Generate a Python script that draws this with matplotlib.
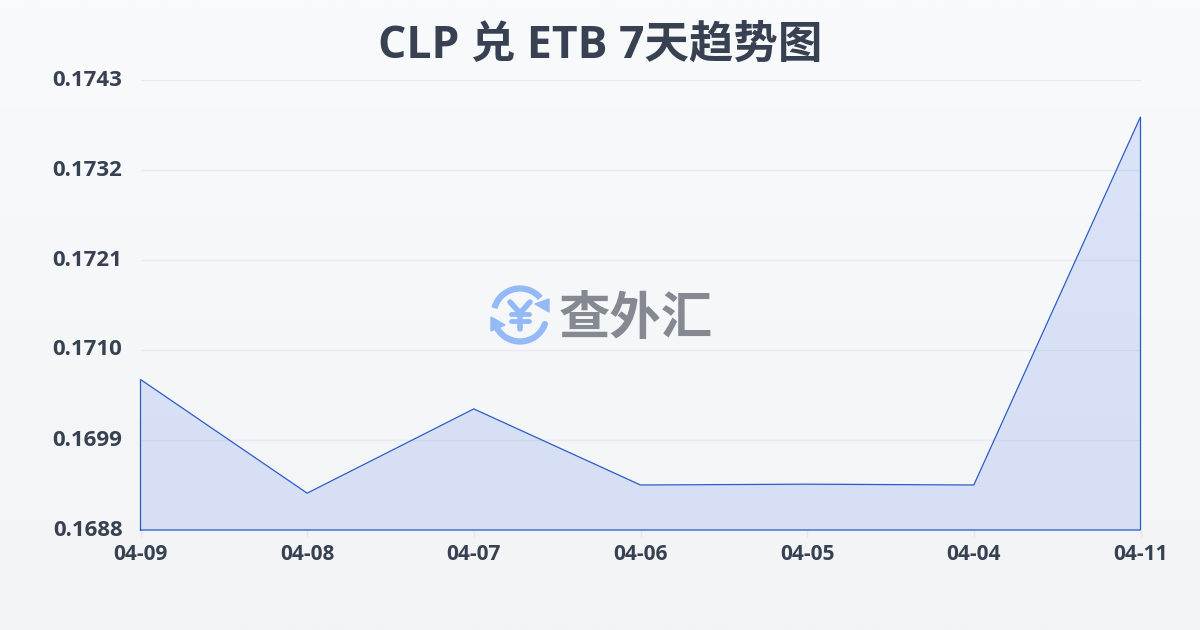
import numpy as np
import matplotlib
matplotlib.use("Agg")
import matplotlib.pyplot as plt
from matplotlib.patches import Arc, Polygon
from matplotlib.transforms import ScaledTranslation

dates = ["04-09", "04-08", "04-07", "04-06", "04-05", "04-04", "04-11"]
rates = [0.17064, 0.16925, 0.17028, 0.16935, 0.16936, 0.16935, 0.17385]
y_ticks = [0.1688, 0.1699, 0.1710, 0.1721, 0.1732, 0.1743]
y_labels = ["0.1688", "0.1699", "0.1710", "0.1721", "0.1732", "0.1743"]
title = "CLP 兑 ETB 7天趋势图"
brand = "查外汇"

plt.rcParams['font.family'] = ['Open Sans', 'Noto Sans CJK SC', 'DejaVu Sans']
W, H = 1200, 630
fig = plt.figure(figsize=(12, 6.3), dpi=100)

bg = fig.add_axes([0, 0, 1, 1], zorder=0)
bg.imshow(np.linspace(0, 1, 256)[:, None],
          cmap=matplotlib.colors.LinearSegmentedColormap.from_list("b", ["#f9fafc", "#f3f4f6"]),
          aspect="auto", extent=[0, W, H, 0])
bg.set_xlim(0, W); bg.set_ylim(H, 0); bg.axis("off")

L, R, T, B = 140.5, 1140.5, 80, 530
ax = fig.add_axes([L/W, 1-B/H, (R-L)/W, (B-T)/H], zorder=1)
ax.patch.set_alpha(0)
x = np.arange(len(dates))
ax.set_xlim(0, len(dates)-1)
ax.set_ylim(y_ticks[0], y_ticks[-1])
ax.fill_between(x, rates, y_ticks[0], color="#3f72e6", alpha=0.16, lw=0, zorder=2)
ax.plot(np.r_[x[0], x, x[-1], x[0]], np.r_[y_ticks[0], rates, y_ticks[0], y_ticks[0]],
        color="#2a5cc8", lw=0.9, zorder=3, clip_on=False, solid_joinstyle="miter")
ax.grid(axis="y", color="#e8eaee", lw=1, zorder=1)
ax.set_yticks(y_ticks, y_labels)
for s in ax.spines.values():
    s.set_visible(False)
ax.set_xticks(x, dates)
ax.tick_params(axis="x", length=5, width=1, color="#e5e7eb", labelsize=15, labelcolor="#374151", pad=5)
ax.tick_params(axis="y", length=0, labelsize=16, labelcolor="#374151", pad=13)
shift = ScaledTranslation(0, 2.5/100, fig.dpi_scale_trans)
for t in ax.get_yticklabels():
    t.set_transform(t.get_transform() + shift)
for t in ax.get_xticklabels() + ax.get_yticklabels():
    t.set_fontweight("bold")

bg.text(600, 46, title, ha="center", va="center", fontsize=32, fontweight="bold", color="#374151")

# watermark
ov = fig.add_axes([0, 0, 1, 1], zorder=4)
ov.patch.set_alpha(0)
ov.set_xlim(0, W); ov.set_ylim(H, 0); ov.axis("off")
blue = "#93b9f7"
cx, cy, r = 520, 315, 26.5
ov.add_patch(Arc((cx, cy), 2*r, 2*r, theta1=195, theta2=320, color=blue, lw=4.5))
ov.add_patch(Arc((cx, cy), 2*r, 2*r, theta1=20, theta2=160, color=blue, lw=4.5, capstyle="round"))
ov.add_patch(Polygon([[549, 299], [549, 312], [535, 304]], color=blue))
ov.add_patch(Polygon([[491, 317], [491, 331], [505, 325]], color=blue))
ov.plot([510, 520, 530], [302, 313, 302], color=blue, lw=4, solid_capstyle="round")
ov.plot([520, 520], [313, 329], color=blue, lw=4, solid_capstyle="round")
ov.plot([511, 529], [314, 314], color=blue, lw=3.5, solid_capstyle="round")
ov.plot([511, 529], [321, 321], color=blue, lw=3.5, solid_capstyle="round")
ov.text(635.5, 321, brand, ha="center", va="center", fontsize=37, fontweight="bold", color="#858a92")

fig.savefig("out.png", dpi=100)
